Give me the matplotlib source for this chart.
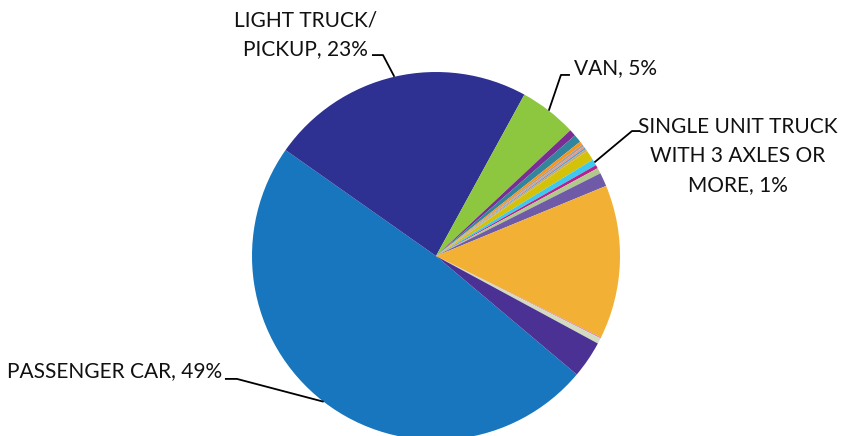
import numpy as np
import matplotlib
matplotlib.use("Agg")
import matplotlib.pyplot as plt

# vehicle classes, clockwise from the passenger car slice
categories = ["PASSENGER CAR", "LIGHT TRUCK/\nPICKUP", "VAN", "CLASS 4", "CLASS 5",
              "CLASS 6", "CLASS 7", "CLASS 8", "CLASS 9", "CLASS 10", "CLASS 11",
              "SINGLE UNIT TRUCK\nWITH 3 AXLES OR\nMORE", "CLASS 13", "CLASS 14",
              "CLASS 15", "CLASS 16", "CLASS 17", "CLASS 18", "CLASS 19"]
shares = [48.6, 23.2, 5.05, 0.6, 0.7, 0.3, 0.2, 0.15, 0.15, 0.2, 0.9,
          0.55, 0.3, 0.5, 1.2, 13.5, 0.1, 0.5, 3.25]
shown_pct = {"PASSENGER CAR": 49, "LIGHT TRUCK/\nPICKUP": 23, "VAN": 5,
             "SINGLE UNIT TRUCK\nWITH 3 AXLES OR\nMORE": 1}
colors = ["#1776bd", "#2e3192", "#8dc63f", "#7a2e91", "#31859c", "#f7941d",
          "#a0a0a0", "#e9967a", "#5b9bd5", "#c8a86b", "#d4c10a", "#3fc8ef",
          "#b5228f", "#b3c98c", "#6f5aa8", "#f2b134", "#e07fa0", "#d3dcc0",
          "#4a3193"]

fig = plt.figure(figsize=(8.41, 4.36), dpi=100)
# pie centre at about (436, 256) px, radius 184 px
ax = fig.add_axes([252 / 841, -4 / 436, 368 / 841, 368 / 436])
wedges, _ = ax.pie(shares, colors=colors, startangle=-40.1, counterclock=False,
                   wedgeprops=dict(linewidth=0))
ax.set_xlim(-1, 1)
ax.set_ylim(-1, 1)
ax.set_aspect("equal")
ax.axis("off")

# label text position, text alignment, elbow points of the leader line
label_layout = {
    "PASSENGER CAR": dict(xy=(-1.163, -0.628), ha="right", lead=[(-1.147, -0.668), (-1.082, -0.668)]),
    "LIGHT TRUCK/\nPICKUP": dict(xy=(-0.707, 1.201), ha="center", lead=[(-0.348, 1.092), (-0.288, 1.092)]),
    "VAN": dict(xy=(0.750, 1.022), ha="left", lead=[(0.728, 0.984), (0.679, 0.984)]),
    "SINGLE UNIT TRUCK\nWITH 3 AXLES OR\nMORE": dict(xy=(1.641, 0.543), ha="center", lead=[(1.109, 0.679), (1.065, 0.679)]),
}

for w, name in zip(wedges, categories):
    if name not in shown_pct:
        continue
    lay = label_layout[name]
    mid = np.deg2rad((w.theta1 + w.theta2) / 2)
    pts = lay["lead"] + [(np.cos(mid), np.sin(mid))]
    xs, ys = zip(*pts)
    ax.plot(xs, ys, color="black", lw=1.3, clip_on=False, solid_capstyle="butt")
    ax.text(lay["xy"][0], lay["xy"][1], f"{name}, {shown_pct[name]}%",
            ha=lay["ha"], va="center", fontsize=15, family="Lato",
            linespacing=1.55, color="#111111", clip_on=False)

fig.savefig("out.png", dpi=100)
